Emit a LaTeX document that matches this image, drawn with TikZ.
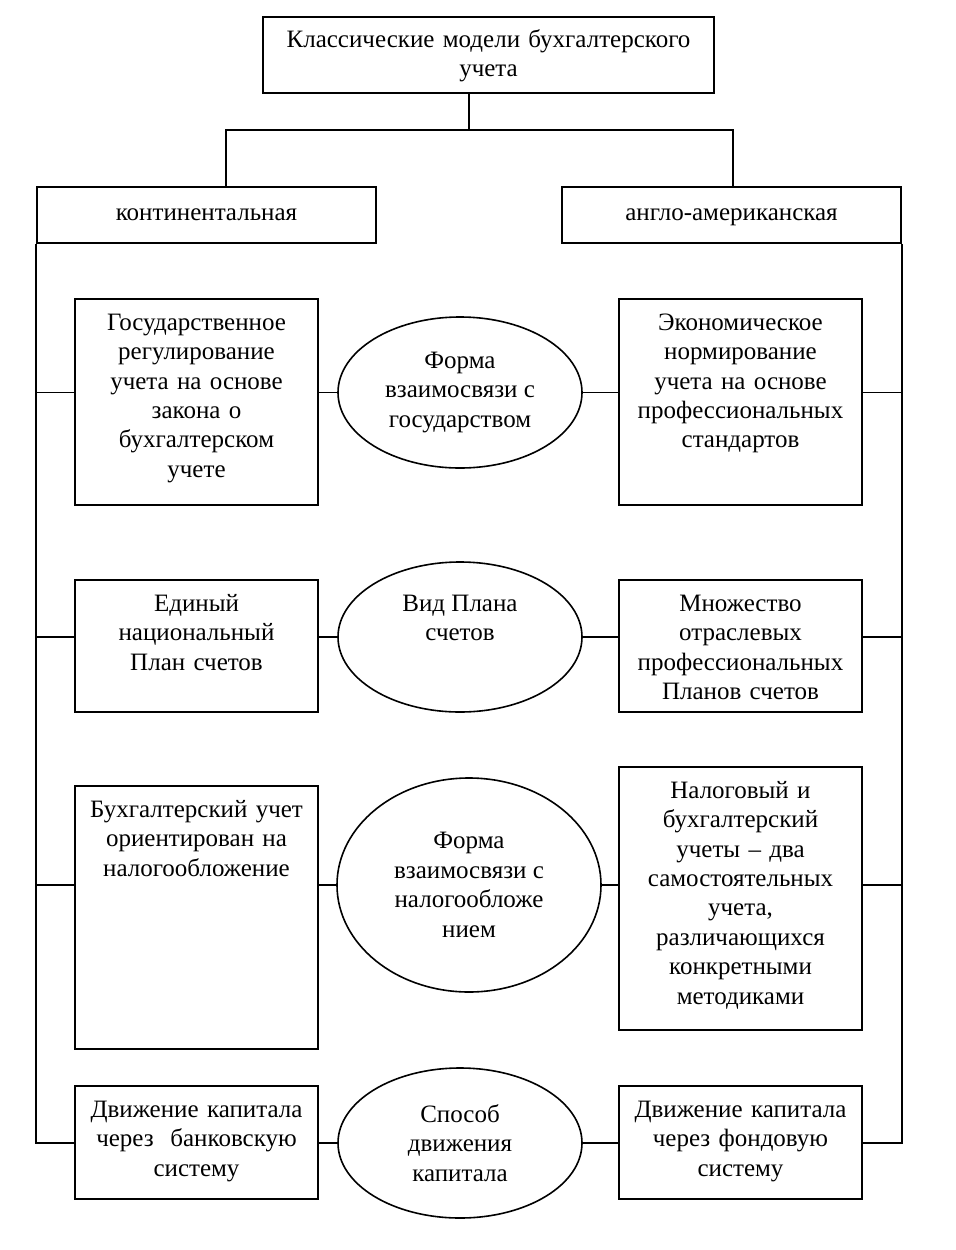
\documentclass[tikz,border=0pt]{standalone}
\usepackage{fontspec}
\setmainfont{Liberation Serif}
\usetikzlibrary{shapes.geometric}
\tikzset{%
  box/.style = {rectangle,draw,line width=1.6bp,inner sep=0pt},
  head/.style = {box,text height=16bp,text depth=6bp},
  ell/.style = {ellipse,draw,line width=1.6bp,inner sep=0pt,align=center},
  txt/.style = {align=center,inner sep=0pt,anchor=base,text width=238bp},
  link/.style = {line width=1.6bp}
}

\begin{document}
\begin{tikzpicture}[x=1bp,y=-1bp,font=\fontsize{25bp}{29.4bp}\selectfont]
    \fill[white] (0,0) rectangle (956,1250);
    \useasboundingbox (0,0) rectangle (956,1250);
    % top of the tree
    \node[box,minimum width=451bp,minimum height=76bp] (top) at (488.5,55) {};
    \node[txt,text width=440bp] (topt) at ([yshift=-31bp]top.north)
        {Классические модели бухгалтерского\\учета};
    \node[head,minimum width=339bp,minimum height=56bp] (cont) at (206.5,215) {континентальная};
    \node[head,minimum width=339bp,minimum height=56bp] (anglo) at (731.5,215) {англо-американская};
    \coordinate (msplit) at (469,130);
    \coordinate (lsplit) at (226,130);
    \coordinate (rsplit) at (733,130);
    \draw[link] (top.south -| msplit) -- (msplit);
    \draw[link] (lsplit |- cont.north) -- (lsplit) -- (rsplit) -- (rsplit |- anglo.north);
    % row 1
    \node[box,minimum width=243bp,minimum height=206bp] (l1) at (196.5,402) {};
    \node[txt] (l1t) at ([yshift=-32bp]l1.north)
        {Государственное\\регулирование\\учета на основе\\закона о\\бухгалтерском\\учете};
    \node[ell,minimum width=244bp,minimum height=151bp] (e1) at (460,392.5)
        {Форма\\взаимосвязи с\\государством};
    \node[box,minimum width=243bp,minimum height=206bp] (r1) at (740.5,402) {};
    \node[txt] (r1t) at ([yshift=-32bp]r1.north)
        {Экономическое\\нормирование\\учета на основе\\профессиональных\\стандартов};
    % row 2
    \node[box,minimum width=243bp,minimum height=132bp] (l2) at (196.5,646) {};
    \node[txt] (l2t) at ([yshift=-32bp]l2.north) {Единый\\национальный\\План счетов};
    \node[ell,minimum width=244bp,minimum height=150bp] (e2) at (460,637)
        {Вид Плана\\счетов\\\strut};
    \node[box,minimum width=243bp,minimum height=132bp] (r2) at (740.5,646) {};
    \node[txt] (r2t) at ([yshift=-32bp]r2.north)
        {Множество\\отраслевых\\профессиональных\\Планов счетов};
    % row 3
    \node[box,minimum width=243bp,minimum height=263bp] (l3) at (196.5,917.5) {};
    \node[txt] (l3t) at ([yshift=-32bp]l3.north)
        {Бухгалтерский учет\\ориентирован на\\налогообложение};
    \node[ell,minimum width=264bp,minimum height=214bp] (e3) at (469,885)
        {Форма\\взаимосвязи с\\налогообложе\\нием};
    \node[box,minimum width=243bp,minimum height=263bp] (r3) at (740.5,898.5) {};
    \node[txt] (r3t) at ([yshift=-32bp]r3.north)
        {Налоговый и\\бухгалтерский\\учеты – два\\самостоятельных\\учета,\\различающихся\\конкретными\\методиками};
    % row 4
    \node[box,minimum width=243bp,minimum height=113bp] (l4) at (196.5,1142.5) {};
    \node[txt] (l4t) at ([yshift=-32bp]l4.north)
        {Движение капитала\\через~ банковскую\\систему};
    \node[ell,minimum width=244bp,minimum height=150bp] (e4) at (460,1143)
        {Способ\\движения\\капитала};
    \node[box,minimum width=243bp,minimum height=113bp] (r4) at (740.5,1142.5) {};
    \node[txt] (r4t) at ([yshift=-32bp]r4.north)
        {Движение капитала\\через фондовую\\систему};
    % side lines
    \draw[link] (cont.south west) |- (l4.west |- e4.west);
    \draw[link] (anglo.south east) |- (r4.east |- e4.east);
    \draw[link] (cont.south west |- e1.west) -- (l1.west |- e1.west);
    \draw[link] (cont.south west |- e2.west) -- (l2.west |- e2.west);
    \draw[link] (cont.south west |- e3.west) -- (l3.west |- e3.west);
    \draw[link] (anglo.south east |- e1.east) -- (r1.east |- e1.east);
    \draw[link] (anglo.south east |- e2.east) -- (r2.east |- e2.east);
    \draw[link] (anglo.south east |- e3.east) -- (r3.east |- e3.east);
    % boxes to ovals
    \draw[link] (l1.east |- e1.west) -- (e1.west);
    \draw[link] (e1.east) -- (r1.west |- e1.east);
    \draw[link] (l2.east |- e2.west) -- (e2.west);
    \draw[link] (e2.east) -- (r2.west |- e2.east);
    \draw[link] (l3.east |- e3.west) -- (e3.west);
    \draw[link] (e3.east) -- (r3.west |- e3.east);
    \draw[link] (l4.east |- e4.west) -- (e4.west);
    \draw[link] (e4.east) -- (r4.west |- e4.east);
\end{tikzpicture}
\end{document}
